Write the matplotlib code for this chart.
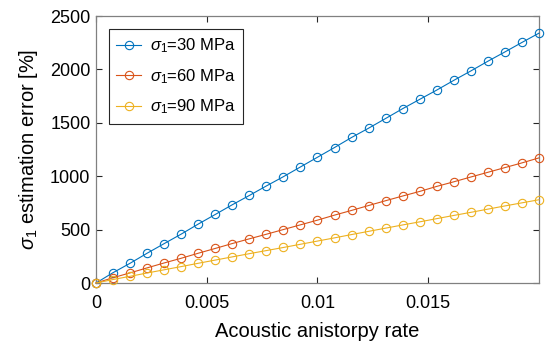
import numpy as np
import matplotlib
matplotlib.use("Agg")
import matplotlib.pyplot as plt

plt.rcParams['font.family'] = ['Liberation Sans', 'DejaVu Sans']
plt.rcParams['mathtext.fontset'] = 'custom'
plt.rcParams['mathtext.rm'] = 'Liberation Sans'
plt.rcParams['mathtext.it'] = 'Liberation Sans:italic'

# anisotropy rate, 27 samples from 0 to 0.02
rate = np.linspace(0, 0.02, 27)

err_30 = [0, 97, 185, 279, 369, 458, 552, 642, 733, 820, 909, 996, 1087, 1178,
          1269, 1363, 1450, 1541, 1633, 1720, 1807, 1898, 1986, 2077, 2164, 2253, 2340]
err_60 = [0, 50, 95, 142, 188, 232, 279, 324, 370, 414, 457, 501, 545, 589,
          636, 680, 726, 771, 815, 858, 905, 948, 993, 1037, 1081, 1125, 1172]
err_90 = [0, 33, 63, 94, 124, 154, 185, 215, 245, 275, 304, 333, 363, 393,
          423, 454, 484, 514, 544, 573, 603, 633, 662, 692, 722, 751, 780]

labels = [r'$\sigma_1$=30 MPa', r'$\sigma_1$=60 MPa', r'$\sigma_1$=90 MPa']
colors = ['#0072BD', '#D95319', '#EDB120']

fig = plt.figure(figsize=(5.5, 3.49), dpi=100)
ax = fig.add_axes([0.1745, 0.189, 0.8055, 0.765])

for y, lab, c in zip([err_30, err_60, err_90], labels, colors):
    ax.plot(rate, y, '-o', color=c, lw=0.8, ms=6, mfc='none', mew=0.8,
            label=lab, clip_on=False, zorder=3)

ax.set_xlim(0, 0.02)
ax.set_ylim(0, 2500)
ax.set_xticks([0, 0.005, 0.01, 0.015])
ax.set_xticklabels(['0', '0.005', '0.01', '0.015'])
ax.set_yticks([0, 500, 1000, 1500, 2000, 2500])
ax.tick_params(direction='in', length=4, width=0.8, color='#262626',
               labelsize=13, top=True, right=True)
ax.tick_params(axis='x', pad=8.5)
ax.tick_params(axis='y', pad=4)
for s in ax.spines.values():
    s.set_color('#808080')
    s.set_linewidth(0.9)

ax.set_xlabel('Acoustic anistorpy rate', fontsize=14.5, labelpad=7)
ax.set_ylabel(r'$\sigma_1$ estimation error [%]', fontsize=14.5, labelpad=7)

leg = ax.legend(loc='upper left', fontsize=12, fancybox=False, framealpha=1,
                edgecolor='#262626', handlelength=1.5, borderpad=0.45,
                labelspacing=0.7, handletextpad=0.5, borderaxespad=0,
                bbox_to_anchor=(0.029, 0.951))
leg.get_frame().set_linewidth(0.8)

fig.savefig('out.png', dpi=100)
